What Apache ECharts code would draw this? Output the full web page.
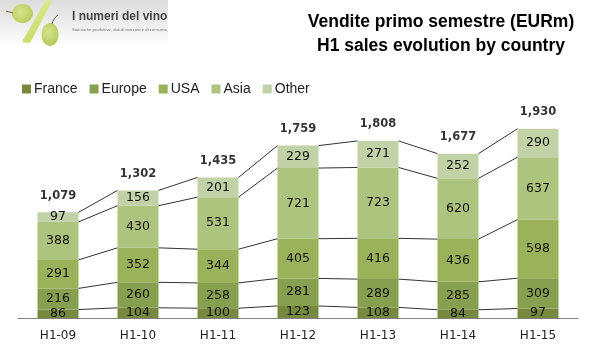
<!DOCTYPE html>
<html>
<head>
<meta charset="utf-8">
<script src="https://cdn.jsdelivr.net/npm/echarts@6/dist/echarts.min.js"></script>
<style>
html, body { margin: 0; padding: 0; background: #fff; }
#main { width: 597px; height: 363px; }
</style>
</head>
<body>
<div id="main"></div>
<script>
const categories = ['H1-09', 'H1-10', 'H1-11', 'H1-12', 'H1-13', 'H1-14', 'H1-15']
const france = [86, 104, 100, 123, 108, 84, 97]
const europe = [216, 260, 258, 281, 289, 285, 309]
const usa = [291, 352, 344, 405, 416, 436, 598]
const asia = [388, 430, 531, 721, 723, 620, 637]
const other = [97, 156, 201, 229, 271, 252, 290]
const totals = [1079, 1302, 1435, 1759, 1808, 1677, 1930]

const seriesNames = ['France', 'Europe', 'USA', 'Asia', 'Other']
const seriesValues = [france, europe, usa, asia, other]
const colors = ['#76893f', '#87a04f', '#9ab35b', '#adc47f', '#c1d2a6']

const labelFont = '"DejaVu Sans", Verdana, sans-serif'
const textFont = '"Liberation Sans", Arial, sans-serif'

const chart = echarts.init(document.getElementById('main'), null, { renderer: 'canvas' })

const barSeries = seriesNames.map(function (name, s) {
    return {
        name: name,
        type: 'bar',
        stack: 'sales',
        barWidth: 41,
        itemStyle: { color: colors[s] },
        label: {
            show: true,
            position: 'inside',
            color: '#111',
            fontFamily: labelFont,
            fontSize: 12.5
        },
        data: seriesValues[s]
    }
})

// connector lines: from the top right corner of one segment to the top left of the next bar
const connectorData = []
seriesValues.forEach(function (values, s) {
    for (let i = 0; i < categories.length - 1; i++) {
        let from = 0
        let to = 0
        for (let k = 0; k <= s; k++) {
            from += seriesValues[k][i]
            to += seriesValues[k][i + 1]
        }
        connectorData.push([i, from, to])
    }
})

const connectors = {
    type: 'custom',
    silent: true,
    z: 5,
    encode: { x: 0, y: [1, 2] },
    renderItem: function (params, api) {
        const i = api.value(0)
        const half = 20.5
        const a = api.coord([i, api.value(1)])
        const b = api.coord([i + 1, api.value(2)])
        return {
            type: 'line',
            shape: { x1: a[0] + half, y1: a[1], x2: b[0] - half, y2: b[1] },
            style: { stroke: '#333', lineWidth: 1 }
        }
    },
    data: connectorData
}

// totals above the bars, the marker itself is transparent
const totalSeries = {
    name: 'Total',
    type: 'scatter',
    symbolSize: 1,
    silent: true,
    z: 6,
    itemStyle: { color: 'transparent' },
    label: {
        show: true,
        position: 'top',
        distance: 10,
        color: '#000',
        fontFamily: labelFont,
        fontSize: 11.5,
        fontWeight: 'bold',
        formatter: function (p) {
            return p.value.toLocaleString('en-US')
        }
    },
    data: totals
}

chart.setOption({
    animation: false,
    backgroundColor: '#fff',
    title: {
        text: 'Vendite primo semestre (EURm)\nH1 sales evolution by country',
        left: 436,
        top: 5,
        textAlign: 'center',
        textStyle: {
            fontFamily: textFont,
            fontSize: 17.5,
            fontWeight: 'bold',
            color: '#000',
            lineHeight: 24
        }
    },
    legend: {
        data: seriesNames,
        left: 17,
        top: 77,
        icon: 'rect',
        itemWidth: 9,
        itemHeight: 9,
        itemGap: 12,
        textStyle: {
            fontFamily: textFont,
            fontSize: 14,
            color: '#222',
            padding: [0, 0, 0, -2]
        }
    },
    grid: { left: 18, right: 19, top: 122, bottom: 45 },
    xAxis: {
        type: 'category',
        data: categories,
        axisTick: { show: false },
        axisLine: { lineStyle: { color: '#808080', width: 1 } },
        axisLabel: {
            fontFamily: labelFont,
            fontSize: 12,
            color: '#222',
            margin: 12
        }
    },
    yAxis: {
        type: 'value',
        min: 0,
        max: 2000,
        show: false
    },
    graphic: [
        // logo
        {
            type: 'rect',
            z: 0,
            shape: { x: 0, y: 0, width: 168, height: 47 },
            style: {
                fill: new echarts.graphic.LinearGradient(0, 0, 0, 1, [
                    { offset: 0, color: '#dcdcdc' },
                    { offset: 1, color: '#ffffff' }
                ])
            }
        },
        {
            type: 'polygon',
            z: 1,
            shape: { points: [[46, 0], [52, 1], [30, 43], [22, 42]] },
            style: {
                fill: new echarts.graphic.LinearGradient(0, 0, 1, 1, [
                    { offset: 0, color: '#e8ef9c' },
                    { offset: 1, color: '#bdd65a' }
                ])
            }
        },
        {
            type: 'ellipse',
            z: 1,
            shape: { cx: 22.5, cy: 13.5, rx: 10.5, ry: 9.5 },
            style: {
                fill: new echarts.graphic.RadialGradient(0.4, 0.4, 0.7, [
                    { offset: 0, color: '#d8e48e' },
                    { offset: 1, color: '#b5cb5c' }
                ])
            }
        },
        {
            type: 'ellipse',
            z: 1,
            shape: { cx: 50, cy: 34.5, rx: 8.5, ry: 11.5 },
            style: {
                fill: new echarts.graphic.RadialGradient(0.4, 0.4, 0.7, [
                    { offset: 0, color: '#d8e48e' },
                    { offset: 1, color: '#b5cb5c' }
                ])
            }
        },
        {
            type: 'line',
            z: 1,
            shape: { x1: 6, y1: 11, x2: 13, y2: 13 },
            style: { stroke: '#6b5a3a', lineWidth: 1 }
        },
        {
            type: 'bezierCurve',
            z: 1,
            shape: { x1: 52, y1: 24, cpx1: 53, cpy1: 20, cpx2: 55, cpy2: 17, x2: 58, y2: 15 },
            style: { stroke: '#6b5a3a', lineWidth: 1, fill: 'none' }
        },
        {
            type: 'text',
            z: 1,
            left: 72,
            top: 11,
            style: {
                text: 'I numeri del vino',
                fontFamily: textFont,
                fontSize: 12,
                fontWeight: 'bold',
                fill: '#444'
            }
        },
        {
            type: 'text',
            z: 1,
            left: 72,
            top: 28,
            style: {
                text: 'Statistiche produttive, dati di mercato e di consumo,',
                fontFamily: textFont,
                fontSize: 4.2,
                fill: '#777'
            }
        }
    ],
    series: barSeries.concat([connectors, totalSeries])
})
</script>
</body>
</html>
